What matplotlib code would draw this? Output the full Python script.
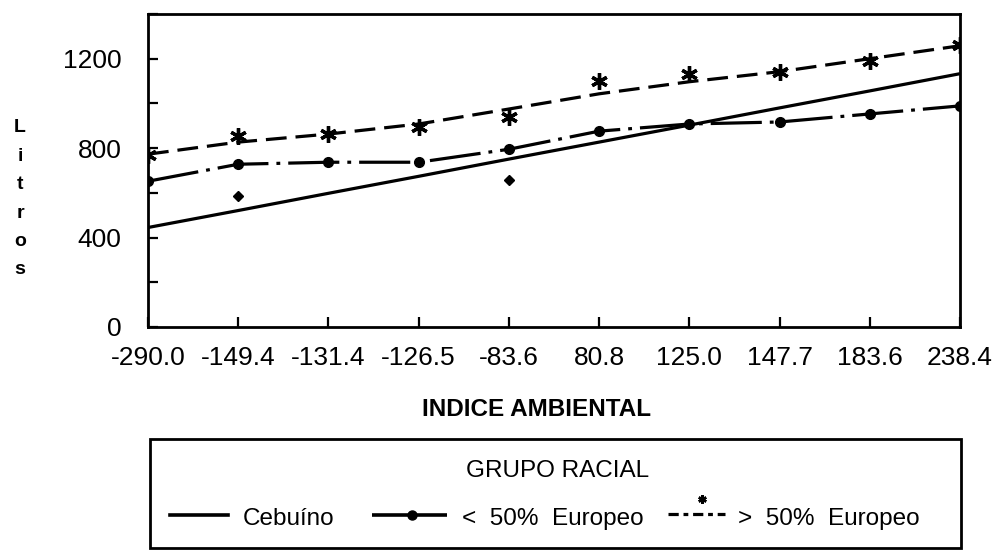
import matplotlib
matplotlib.use("Agg")
import matplotlib.pyplot as plt
import numpy as np
from matplotlib.lines import Line2D
from matplotlib.patches import Rectangle

categories = ["-290.0", "-149.4", "-131.4", "-126.5", "-83.6",
              "80.8", "125.0", "147.7", "183.6", "238.4"]
cebuino_line = [445, 521, 598, 674, 751, 827, 903, 980, 1056, 1133]
cebuino_pts = [np.nan, 584, np.nan, np.nan, 656, np.nan, np.nan, np.nan, np.nan, np.nan]
menos50 = [652, 728, 737, 737, 795, 876, 908, 917, 953, 989]
mas50_line = [773, 827, 863, 908, 975, 1043, 1097, 1142, 1200, 1258]
mas50_pts = [770, 854, 863, 894, 939, 1101, 1133, 1142, 1191, 1260]
yticks = [0, 200, 400, 600, 800, 1000, 1200, 1400]
ylabels = ["0", "", "400", "", "800", "", "1200", ""]
legend_title = "GRUPO RACIAL"
legend_labels = ["Cebuíno", "<  50%  Europeo", ">  50%  Europeo"]

plt.rcParams['font.family'] = ['Liberation Sans', 'DejaVu Sans']

W, H = 997, 557
fig = plt.figure(figsize=(W / 100, H / 100), dpi=100)
L, R, B, T = 148, 960, 327, 14
ax = fig.add_axes([L / W, 1 - B / H, (R - L) / W, (B - T) / H])

ASTER = (6, 2, 0)
x = np.arange(len(categories))
ax.plot(x, cebuino_line, color='black', lw=2.3, solid_capstyle='butt')
ax.plot(x, cebuino_pts, ls='none', marker='D', ms=5.5, color='black')
ax.plot(x, menos50, color='black', lw=2.3, ls=(0, (16, 2.5, 1.2, 2.5)),
        marker='o', ms=7)
ax.plot(x, mas50_line, color='black', lw=2.3, ls=(0, (6.5, 2.8)))
ax.plot(x, mas50_pts, ls='none', marker=ASTER, ms=12, mew=2.4, color='black')

ax.set_xlim(0, len(categories) - 1)
ax.set_ylim(0, 1400)
ax.set_xticks(x)
ax.set_xticklabels(categories)
ax.set_yticks(yticks)
ax.set_yticklabels(ylabels)
ax.tick_params(axis='both', direction='in', length=7, width=1.6,
               labelsize=19, colors='black')
ax.tick_params(axis='x', pad=14)
ax.tick_params(axis='y', pad=19)
for s in ax.spines.values():
    s.set_linewidth(2)
    s.set_color('black')

fig.text(536 / W, 1 - 410 / H, "INDICE AMBIENTAL", ha='center', va='center',
         fontsize=17.5, fontweight='bold')
for k, ch in enumerate("Litros"):
    fig.text(20 / W, 1 - (128 + k * 28.4) / H, ch, ha='center', va='center',
             fontsize=14, fontweight='bold')

# legend box
lx0, lx1, ly0, ly1 = 150, 961, 439, 548
fig.patches.append(Rectangle((lx0 / W, 1 - ly1 / H), (lx1 - lx0) / W, (ly1 - ly0) / H,
                             transform=fig.transFigure, fill=False,
                             edgecolor='black', lw=2))
fig.text(558 / W, 1 - 477 / H, legend_title, ha='center', va='baseline',
         fontsize=17.5)


def fx(px):
    return px / W


def fy(py):
    return 1 - py / H


# handle 1: solid
fig.add_artist(Line2D([fx(170), fx(228)], [fy(515), fy(515)], color='black',
                      lw=2.6, transform=fig.transFigure))
# handle 2: line with circle
fig.add_artist(Line2D([fx(372), fx(447)], [fy(515), fy(515)], color='black',
                      lw=2.6, ls=(0, (11, 1.0)), transform=fig.transFigure))
fig.add_artist(Line2D([fx(412)], [fy(515)], color='black', ls='none', marker='o',
                      ms=6.5, transform=fig.transFigure))
# handle 3: dashed with asterisk
fig.add_artist(Line2D([fx(668), fx(725)], [fy(514), fy(514)], color='black',
                      lw=2.3, ls=(0, (3.2, 1.5, 1.5, 1.5)), transform=fig.transFigure))
fig.add_artist(Line2D([fx(702)], [fy(499)], color='black', ls='none', marker=ASTER,
                      ms=6, mew=1.8, transform=fig.transFigure))
for xl, lab in zip([243, 462, 738], legend_labels):
    fig.text(fx(xl), fy(525), lab, ha='left', va='baseline', fontsize=17.5)

fig.savefig("out.png", dpi=100)
